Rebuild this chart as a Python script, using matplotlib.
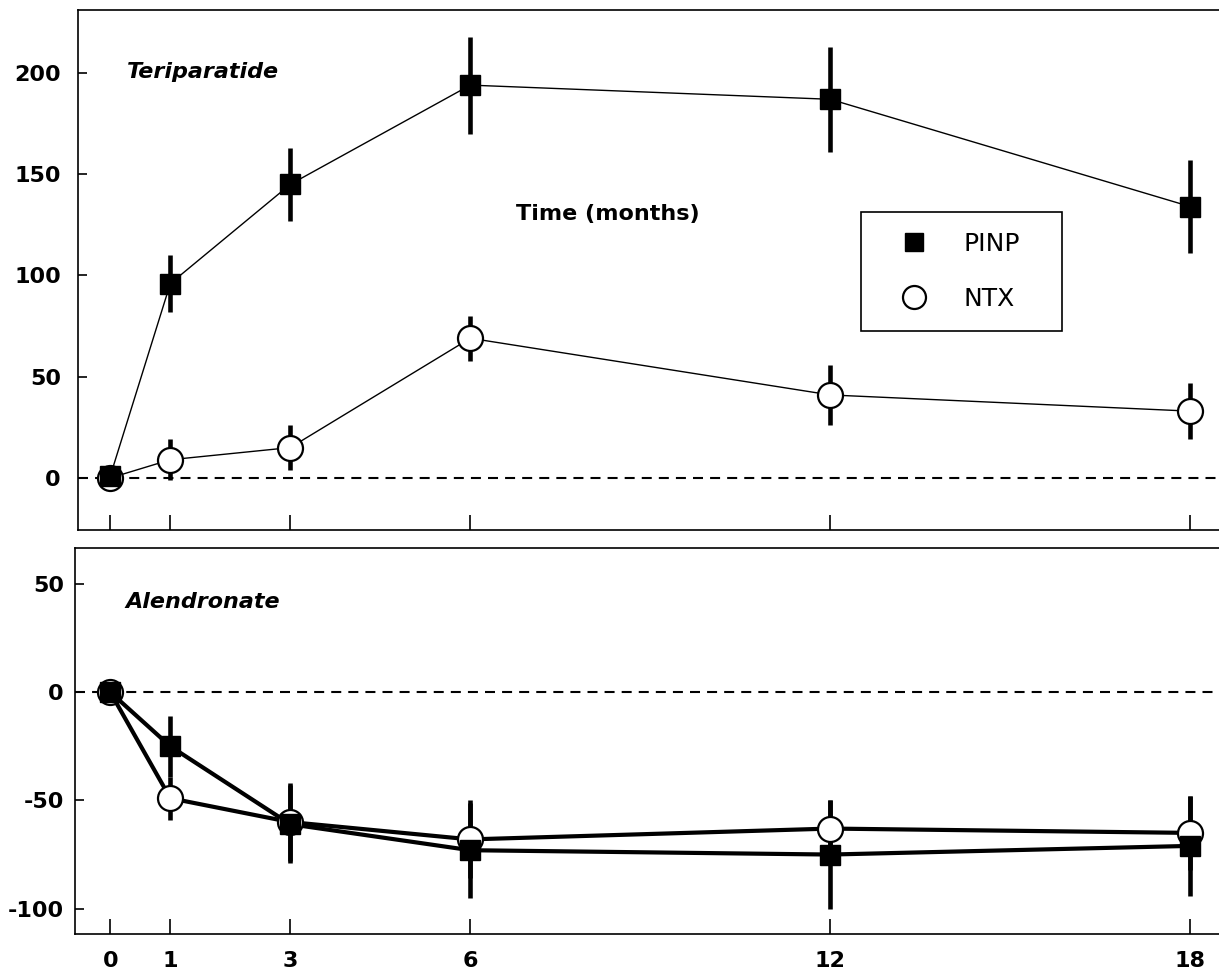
import matplotlib
matplotlib.use('Agg')
import matplotlib.pyplot as plt
from matplotlib.lines import Line2D

plt.rcParams['font.family'] = ['DejaVu Sans']
plt.rcParams['axes.unicode_minus'] = False

months = [0, 1, 3, 6, 12, 18]
x_ticks = [0, 1, 3, 6, 12, 18]

teri_pinp = [1, 96, 145, 194, 187, 134]
teri_pinp_err = [0, 14, 18, 24, 26, 23]
teri_ntx = [0, 9, 15, 69, 41, 33]
teri_ntx_err = [0, 10, 11, 11, 15, 14]

alen_pinp = [0, -25, -61, -73, -75, -71]
alen_pinp_err = [0, 14, 18, 22, 25, 23]
alen_ntx = [0, -49, -60, -68, -63, -65]
alen_ntx_err = [0, 10, 18, 18, 13, 17]

top_yticks = [0, 50, 100, 150, 200]
bot_yticks = [-100, -50, 0, 50]

W, H = 1219, 971
fig = plt.figure(figsize=(W / 100, H / 100), dpi=100)

ax1 = fig.add_axes([77.5 / W, (H - 530) / H, (W - 77.5) / W, 520 / H])
ax2 = fig.add_axes([75 / W, (H - 934) / H, (W - 75) / W, 386 / H])


def style(ax, xl, yl, yticks, ypad, show_xlabels):
    ax.set_xlim(*xl)
    ax.set_ylim(*yl)
    ax.set_xticks(x_ticks)
    ax.set_yticks(yticks)
    for s in ['left', 'top', 'bottom']:
        ax.spines[s].set_linewidth(1.2)
    ax.spines['right'].set_visible(False)
    ax.tick_params(axis='x', direction='in', length=11, width=1.2,
                   labelsize=16, pad=12.5, labelbottom=show_xlabels)
    ax.tick_params(axis='y', direction='in', length=6.5, width=1.2,
                   labelsize=16, pad=ypad)
    for lab in ax.get_xticklabels() + ax.get_yticklabels():
        lab.set_fontweight('bold')
    ax.axhline(0, color='black', lw=1.5, ls=(0, (4.8, 3.4)), zorder=1)


def draw(ax, pinp, pinp_err, ntx, ntx_err, lw):
    ax.plot(months, ntx, color='black', lw=lw, zorder=2)
    ax.plot(months, pinp, color='black', lw=lw, zorder=2)
    ax.errorbar(months, ntx, yerr=ntx_err, fmt='none', ecolor='black',
                elinewidth=3.3, capsize=0, zorder=3)
    ax.errorbar(months, pinp, yerr=pinp_err, fmt='none', ecolor='black',
                elinewidth=3.3, capsize=0, zorder=3)
    ax.plot(months, ntx, ls='none', marker='o', ms=18, mfc='white',
            mec='black', mew=1.6, zorder=4)
    ax.plot(months, pinp, ls='none', marker='s', ms=14.5, mfc='black',
            mec='black', mew=1.0, zorder=5)


xl1 = ((77.5 - 110.3) / 60, (W - 110.3) / 60)
xl2 = ((75 - 110.3) / 60, (W - 110.3) / 60)
style(ax1, xl1, (-25.7, 231.1), top_yticks, 12, False)
style(ax2, xl2, (-111.7, 66.6), bot_yticks, 8, True)

draw(ax1, teri_pinp, teri_pinp_err, teri_ntx, teri_ntx_err, 1.0)
draw(ax2, alen_pinp, alen_pinp_err, alen_ntx, alen_ntx_err, 3.0)

fig.text(127 / W, 1 - 77.7 / H, 'Teriparatide', fontsize=16,
         fontweight='bold', fontstyle='italic', va='baseline', ha='left')
fig.text(125 / W, 1 - 608 / H, 'Alendronate', fontsize=16,
         fontweight='bold', fontstyle='italic', va='baseline', ha='left')
fig.text(608 / W, 1 - 220 / H, 'Time (months)', fontsize=16,
         fontweight='bold', va='baseline', ha='center')

handles = [
    Line2D([], [], ls='none', marker='s', ms=14.5, mfc='black', mec='black', mew=1.0),
    Line2D([], [], ls='none', marker='o', ms=18, mfc='white', mec='black', mew=1.6),
]
leg = ax1.legend(handles, ['PINP', 'NTX'], loc='upper left',
                 bbox_to_anchor=(861 / W, 1 - 332 / H, (1062 - 861) / W, (332 - 212) / H),
                 bbox_transform=fig.transFigure, mode='expand',
                 fontsize=18, frameon=True, fancybox=False, edgecolor='black',
                 framealpha=1, borderpad=0.8, labelspacing=1.25,
                 handlelength=2.6, handletextpad=0.7, borderaxespad=0,
                 markerscale=0.92)
leg.get_frame().set_linewidth(1.2)

fig.savefig('out.png', dpi=100)
